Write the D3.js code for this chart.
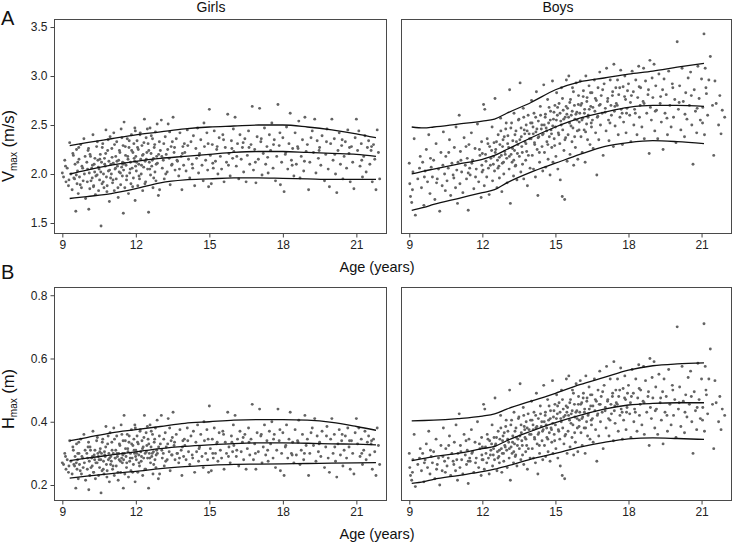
<!DOCTYPE html>
<html><head><meta charset="utf-8">
<script src="https://cdn.jsdelivr.net/npm/d3@7"></script>
<style>body{margin:0;background:#fff} svg{display:block;font-family:"Liberation Sans",Arial,Helvetica,sans-serif}</style>
</head><body><svg id="chart" width="733" height="544"></svg>
<script>
// ---------- tick labels ----------
const ageTicks = [9, 12, 15, 18, 21];
const vTicks = [1.5, 2.0, 2.5, 3.0, 3.5];
const hTicks = [0.2, 0.4, 0.6, 0.8];

// ---------- percentile curves ----------
const girlsCurveAge = [9.3,10,11,12,13,14,15,16,17,18,19,20,21,21.8];
const girlsV_hi  = [2.29,2.32,2.36,2.40,2.43,2.46,2.48,2.49,2.50,2.50,2.48,2.45,2.41,2.37];
const girlsV_mid = [2.00,2.04,2.09,2.13,2.16,2.18,2.20,2.22,2.23,2.23,2.22,2.21,2.20,2.18];
const girlsV_lo  = [1.75,1.77,1.80,1.85,1.91,1.94,1.95,1.96,1.96,1.955,1.95,1.945,1.945,1.945];
const girlsH_hi  = [.34,.35,.365,.375,.385,.395,.40,.405,.407,.407,.405,.398,.385,.373];
const girlsH_mid = [.277,.285,.295,.305,.315,.322,.327,.331,.333,.333,.332,.33,.329,.327];
const girlsH_lo  = [.222,.228,.236,.243,.252,.258,.262,.265,.266,.267,.268,.269,.27,.271];

const boysCurveAge = [9.1,9.6,10,11,12,12.5,13,14,15,16,17,18,19,20,21.1];
const boysV_hi  = [2.48,2.47,2.48,2.51,2.54,2.56,2.62,2.73,2.86,2.94,2.98,3.02,3.05,3.09,3.13];
const boysV_mid = [2.00,2.03,2.05,2.10,2.15,2.19,2.25,2.37,2.48,2.57,2.63,2.68,2.70,2.70,2.69];
const boysV_lo  = [1.63,1.66,1.69,1.75,1.81,1.84,1.91,2.02,2.11,2.20,2.28,2.32,2.34,2.33,2.31];
const boysH_hi  = [.403,.404,.405,.41,.418,.425,.44,.465,.49,.517,.54,.563,.577,.583,.586];
const boysH_mid = [.277,.284,.29,.30,.315,.322,.34,.37,.397,.42,.44,.453,.458,.46,.46];
const boysH_lo  = [.205,.211,.218,.23,.242,.25,.26,.282,.30,.32,.335,.346,.349,.347,.344];

// ---------- individual observations ----------
const girlsAge = [
9.0,9.05,9.1,9.15,9.2,9.25,9.3,9.35,9.4,9.45,
9.5,9.52,9.55,9.58,9.6,9.62,9.65,9.68,9.7,9.75,9.78,9.8,9.85,9.88,9.9,9.95,
10.0,10.02,10.05,10.08,10.1,10.12,10.15,10.2,10.22,10.25,10.28,10.3,10.32,10.35,10.4,10.42,10.45,10.48,
10.5,10.52,10.55,10.58,10.6,10.62,10.65,10.68,10.7,10.72,10.75,10.78,10.8,10.82,10.85,10.88,10.9,10.92,10.95,10.98,
11.0,11.02,11.05,11.08,11.1,11.12,11.15,11.18,11.2,11.22,11.25,11.28,11.3,11.32,11.35,11.38,11.4,11.42,11.45,11.48,11.49,11.46,
11.5,11.52,11.55,11.58,11.6,11.62,11.65,11.68,11.7,11.72,11.75,11.78,11.8,11.82,11.85,11.88,11.9,11.92,11.95,11.97,11.98,11.99,
12.0,12.02,12.05,12.08,12.1,12.12,12.15,12.18,12.2,12.22,12.25,12.28,12.3,12.32,12.35,12.38,12.4,12.42,12.45,12.48,
12.5,12.52,12.55,12.58,12.6,12.62,12.65,12.68,12.7,12.72,12.75,12.78,12.8,12.82,12.85,12.88,12.92,12.96,
13.0,13.04,13.08,13.12,13.16,13.2,13.24,13.28,13.32,13.36,13.4,13.44,13.48,13.49,
13.52,13.56,13.6,13.65,13.7,13.75,13.8,13.85,13.88,13.92,13.95,13.98,
14.0,14.05,14.1,14.15,14.2,14.25,14.3,14.35,14.4,14.45,14.48,
14.52,14.56,14.6,14.65,14.7,14.75,14.8,14.85,14.9,14.93,14.97,
15.0,15.04,15.08,15.12,15.16,15.2,15.25,15.3,15.35,15.4,15.45,
15.5,15.55,15.6,15.65,15.7,15.75,15.8,15.85,15.9,15.95,15.98,
16.0,16.05,16.1,16.15,16.2,16.25,16.3,16.35,16.4,16.45,
16.5,16.55,16.6,16.65,16.7,16.75,16.8,16.85,16.9,16.95,
17.0,17.05,17.1,17.15,17.2,17.25,17.3,17.35,17.4,17.45,
17.5,17.55,17.6,17.65,17.7,17.75,17.8,17.85,17.9,17.95,
18.0,18.05,18.1,18.15,18.2,18.25,18.3,18.35,18.4,18.45,
18.5,18.55,18.6,18.65,18.7,18.75,18.8,18.85,18.9,18.95,
19.0,19.05,19.1,19.2,19.25,19.3,19.35,19.4,19.45,
19.5,19.55,19.6,19.7,19.75,19.8,19.85,19.9,19.95,
20.0,20.05,20.1,20.15,20.2,20.25,20.3,20.35,20.4,20.45,
20.5,20.55,20.6,20.65,20.7,20.75,20.8,20.85,20.9,20.95,
21.0,21.05,21.1,21.15,21.2,21.25,21.3,21.35,21.4,21.45,
21.5,21.55,21.6,21.65,21.7,21.75,21.8,21.85,21.9,21.95,
9.13,9.27,9.43,9.57,9.63,9.73,9.83,9.93,9.47,9.67,
10.03,10.13,10.17,10.23,10.33,10.37,10.43,10.47,10.27,10.07,
10.53,10.57,10.63,10.67,10.73,10.77,10.83,10.87,10.93,10.97,
11.03,11.07,11.13,11.17,11.23,11.27,11.33,11.37,11.43,11.47,
11.53,11.57,11.63,11.67,11.73,11.77,11.83,11.87,11.93,11.96,
12.03,12.07,12.13,12.17,12.23,12.27,12.33,12.37,12.43,12.47,
12.53,12.57,12.63,12.67,12.73,12.77,12.83,12.87,12.93,12.97,
13.06,13.14,13.22,13.3,13.38,13.46,13.58,13.68,13.78,13.9,
14.12,14.32,14.58,14.78,14.95,15.14,15.32,15.58,15.78,15.92,
16.12,16.38,16.62,16.88,17.12,17.38,17.62,17.88,18.12,18.38,
18.62,18.88,19.15,19.48,19.78,20.12,20.42,20.72,21.22,21.62];
const girlsVmax = [
2.01,1.97,2.14,1.92,2.06,1.88,2.32,2.00,1.84,2.19,
1.95,2.10,1.62,2.25,1.90,2.03,1.80,2.15,1.97,2.30,1.86,2.08,1.93,2.36,2.00,1.75,
2.12,1.92,2.24,1.64,2.01,1.85,2.18,2.06,1.96,2.40,1.88,2.10,2.02,1.79,2.28,1.99,2.14,1.83,
2.05,1.94,2.20,1.47,2.12,1.90,2.31,2.00,1.86,2.16,2.08,2.45,1.97,1.82,2.24,2.03,2.13,1.72,2.38,2.10,
2.00,2.26,1.91,2.11,2.42,1.83,2.05,2.18,1.95,2.33,2.08,1.76,2.14,2.02,2.22,1.89,2.46,2.07,1.98,2.29,1.60,2.12,
2.04,2.53,1.86,2.19,2.09,1.94,2.36,2.15,1.80,2.27,2.01,2.12,1.90,2.40,2.06,2.22,1.96,2.31,2.13,1.73,2.44,2.08,
2.18,2.03,2.34,1.88,2.25,2.10,1.95,2.42,2.15,2.00,2.29,1.83,2.20,2.07,2.56,2.13,1.92,2.37,2.22,2.05,
2.31,1.61,2.12,2.47,1.99,2.21,2.08,2.36,1.86,2.16,2.27,2.02,2.43,1.93,2.18,2.11,1.78,2.33,
2.24,2.55,2.06,2.14,1.95,2.38,2.20,2.02,2.51,2.16,1.89,2.28,2.10,2.33,
2.58,2.22,2.04,2.36,2.13,1.98,2.42,2.18,1.84,2.28,2.09,2.31,
2.22,2.03,2.45,2.15,1.96,2.33,2.10,2.39,1.88,2.26,2.16,
2.47,2.01,2.21,2.35,2.09,1.93,2.28,2.14,2.42,2.04,1.87,
2.66,2.19,1.90,2.30,2.06,2.44,2.13,2.25,2.00,2.37,2.18,
2.05,2.40,1.92,2.27,2.12,2.61,2.21,1.98,2.34,2.16,2.46,
2.23,2.58,2.08,2.31,1.95,2.40,2.15,2.27,2.02,2.36,
1.92,2.19,2.44,2.10,2.30,2.69,2.04,2.25,1.91,2.38,
2.15,2.67,2.33,1.99,2.21,2.47,2.10,2.28,2.01,2.40,
2.24,2.52,2.06,2.35,1.93,2.18,2.71,2.29,1.89,2.12,
2.37,1.82,2.20,2.48,2.05,2.31,2.62,2.14,2.26,1.98,
2.42,2.10,2.28,2.54,1.96,2.18,2.35,2.03,2.58,2.23,
2.30,1.84,2.12,2.44,2.22,2.56,2.01,2.34,2.16,
2.27,2.09,2.39,1.93,2.20,2.46,2.05,1.87,2.31,
2.56,2.14,2.36,2.00,1.81,2.24,2.42,2.10,2.29,1.95,
2.18,2.33,2.06,2.45,2.21,1.92,2.28,2.12,1.85,2.37,
2.56,2.24,2.44,2.08,2.31,1.97,2.18,2.39,2.02,2.27,
2.34,2.10,2.24,1.92,2.30,2.15,1.84,2.45,2.22,1.95,
2.08,1.94,2.21,1.99,2.12,1.89,2.06,2.18,1.96,2.27,
2.05,2.20,1.93,2.09,2.16,1.98,2.33,2.07,1.87,2.26,
2.15,2.02,2.27,1.92,2.10,2.21,1.88,2.35,2.04,1.96,
2.17,1.94,2.30,2.06,2.13,1.86,2.24,2.01,2.37,2.10,
2.11,2.28,1.98,2.18,2.34,2.05,2.24,1.87,2.16,2.47,
2.12,2.27,1.98,2.40,2.09,2.19,2.32,1.90,2.15,2.46,
2.24,2.05,2.39,2.14,1.96,2.30,2.10,2.51,2.20,1.84,
2.18,2.31,2.00,2.25,2.43,2.09,2.27,2.14,2.05,2.21,
2.29,2.06,2.19,2.52,2.31,2.11,2.28,2.35,2.09,2.26,
2.18,2.32,2.27,2.12,2.36,2.17,2.30,2.42,2.22,2.09,
2.26,2.13,2.37,2.24,2.33,2.20,2.35,2.27,2.14,2.28];
const girlsHmax = [
.27,.265,.30,.25,.28,.24,.34,.275,.235,.31,
.26,.29,.19,.33,.25,.28,.22,.30,.265,.345,.235,.29,.255,.36,.27,.215,
.30,.25,.32,.185,.275,.23,.31,.285,.26,.37,.24,.295,.28,.22,.34,.27,.30,.23,
.28,.255,.315,.175,.30,.245,.345,.275,.235,.305,.29,.385,.265,.225,.33,.28,.30,.21,.365,.29,
.275,.335,.25,.30,.38,.23,.285,.31,.26,.355,.29,.215,.30,.28,.325,.24,.39,.285,.27,.34,.19,.30,
.28,.42,.235,.315,.29,.255,.36,.305,.225,.335,.275,.30,.245,.375,.285,.325,.265,.345,.30,.21,.38,.29,
.31,.28,.355,.24,.33,.295,.26,.375,.305,.275,.34,.23,.32,.285,.42,.30,.25,.365,.325,.285,
.345,.19,.30,.39,.27,.32,.29,.36,.235,.305,.335,.28,.38,.255,.31,.30,.22,.355,
.33,.42,.285,.30,.26,.365,.32,.28,.41,.305,.245,.34,.295,.35,
.43,.325,.28,.36,.30,.27,.375,.31,.23,.34,.29,.345,
.325,.28,.38,.305,.265,.355,.295,.37,.24,.335,.305,
.39,.275,.32,.36,.29,.255,.34,.30,.375,.28,.24,
.45,.315,.245,.345,.285,.38,.30,.33,.275,.365,.31,
.285,.37,.25,.335,.30,.43,.32,.27,.355,.305,.39,
.325,.42,.29,.345,.26,.37,.305,.335,.28,.36,
.25,.315,.38,.295,.345,.455,.28,.33,.25,.365,
.305,.44,.355,.27,.32,.39,.295,.34,.275,.37,
.33,.40,.285,.36,.255,.31,.44,.34,.245,.30,
.365,.23,.32,.39,.285,.345,.43,.30,.335,.27,
.375,.295,.34,.405,.265,.31,.36,.28,.42,.325,
.345,.23,.30,.38,.325,.41,.275,.355,.305,
.335,.29,.37,.255,.32,.385,.285,.24,.345,
.41,.30,.36,.275,.225,.33,.375,.295,.34,.26,
.31,.355,.285,.38,.32,.25,.34,.30,.235,.365,
.41,.33,.38,.29,.345,.265,.31,.37,.28,.335,
.355,.295,.33,.25,.345,.305,.23,.38,.325,.265,
.29,.26,.32,.27,.30,.245,.285,.31,.265,.335,
.285,.32,.255,.29,.31,.27,.35,.29,.24,.335,
.305,.28,.335,.25,.295,.32,.245,.355,.285,.265,
.31,.26,.345,.285,.30,.24,.33,.275,.36,.295,
.30,.34,.27,.315,.355,.285,.33,.24,.31,.39,
.30,.335,.27,.37,.29,.315,.35,.25,.305,.385,
.33,.285,.37,.30,.265,.345,.295,.405,.32,.235,
.31,.345,.275,.33,.38,.295,.335,.30,.285,.32,
.34,.285,.315,.40,.345,.30,.335,.36,.29,.335,
.31,.35,.335,.30,.36,.31,.345,.375,.325,.295,
.335,.30,.365,.33,.355,.32,.36,.34,.30,.34];

const boysAge = [
9.0,9.02,9.05,9.1,9.15,9.2,9.25,9.35,9.45,
9.5,9.55,9.6,9.65,9.7,9.75,9.8,9.85,9.9,9.95,
10.0,10.05,10.1,10.15,10.2,10.25,10.3,10.35,10.4,10.45,10.48,
10.5,10.55,10.6,10.65,10.7,10.75,10.8,10.85,10.9,10.92,10.95,10.98,
11.0,11.05,11.08,11.1,11.15,11.2,11.25,11.3,11.35,11.38,11.42,11.45,11.48,
11.5,11.55,11.6,11.65,11.7,11.75,11.8,11.85,11.9,11.95,11.97,11.98,11.99,
12.0,12.05,12.08,12.1,12.15,12.18,12.2,12.25,12.28,12.3,12.35,12.4,12.42,12.45,12.48,
12.5,12.52,12.55,12.6,12.62,12.65,12.68,12.7,12.72,12.75,12.78,12.8,12.82,12.85,12.88,12.92,12.96,
13.0,13.02,13.05,13.08,13.1,13.12,13.15,13.18,13.2,13.22,13.25,13.28,13.3,13.32,13.35,13.38,13.42,13.46,
13.5,13.52,13.55,13.58,13.6,13.62,13.65,13.68,13.7,13.72,13.75,13.78,13.8,13.82,13.85,13.88,13.92,13.96,
14.0,14.02,14.05,14.08,14.1,14.12,14.15,14.18,14.2,14.22,14.25,14.28,14.3,14.32,14.35,14.38,14.42,14.45,14.48,
14.5,14.52,14.55,14.58,14.6,14.62,14.65,14.68,14.7,14.72,14.75,14.78,14.8,14.82,14.85,14.88,14.9,14.92,14.95,14.98,
15.0,15.02,15.05,15.08,15.1,15.12,15.15,15.18,15.2,15.22,15.25,15.28,15.3,15.32,15.35,15.38,15.4,15.42,15.45,15.48,
15.5,15.52,15.55,15.58,15.6,15.62,15.65,15.68,15.7,15.72,15.75,15.78,15.8,15.82,15.85,15.88,15.9,15.92,15.95,15.98,
16.0,16.02,16.05,16.08,16.1,16.12,16.15,16.18,16.2,16.22,16.25,16.28,16.3,16.32,16.35,16.38,16.42,16.45,16.48,
16.5,16.52,16.55,16.6,16.62,16.65,16.68,16.7,16.72,16.75,16.78,16.8,16.82,16.85,16.88,16.92,16.96,
17.0,17.05,17.08,17.1,17.15,17.18,17.2,17.25,17.28,17.3,17.35,17.38,17.4,17.42,17.45,17.48,
17.5,17.55,17.58,17.6,17.65,17.68,17.7,17.75,17.78,17.8,17.85,17.88,17.9,17.92,17.96,
18.0,18.05,18.08,18.1,18.15,18.2,18.22,18.25,18.3,18.35,18.38,18.42,18.45,18.48,
18.5,18.55,18.6,18.62,18.65,18.7,18.75,18.8,18.85,18.88,18.9,18.94,18.97,
19.0,19.05,19.08,19.12,19.15,19.2,19.25,19.3,19.35,19.4,19.42,19.46,
19.5,19.55,19.6,19.65,19.7,19.75,19.8,19.85,19.9,19.95,
20.0,20.05,20.1,20.15,20.2,20.25,20.3,20.35,20.4,20.45,
20.5,20.55,20.6,20.65,20.7,20.75,20.8,20.85,20.9,20.95,
21.0,21.05,21.1,21.12,21.15,21.2,21.25,21.3,21.36,21.45,
21.5,21.55,21.6,21.7,21.75,21.8,21.85,21.95,
9.13,9.42,9.62,9.87,10.12,10.38,10.62,10.83,11.12,11.33,
11.57,11.72,11.88,12.03,12.13,12.23,12.33,12.38,12.46,11.42,
12.53,12.58,12.64,12.7,12.76,12.83,12.87,12.9,12.94,12.98,
13.04,13.11,13.17,13.24,13.29,13.34,13.4,13.44,13.48,13.37,
13.54,13.59,13.64,13.7,13.74,13.79,13.84,13.89,13.94,13.98,
14.04,14.09,14.14,14.19,14.24,14.29,14.34,14.39,14.44,14.47,
14.54,14.59,14.64,14.69,14.74,14.79,14.84,14.89,14.94,14.97,
15.04,15.09,15.14,15.19,15.24,15.29,15.34,15.39,15.44,15.47,
15.54,15.59,15.64,15.69,15.74,15.79,15.84,15.89,15.94,15.97,
16.04,16.09,16.14,16.19,16.24,16.29,16.34,16.39,16.44,16.47,
16.54,16.64,16.74,16.84,16.94,17.04,17.14,17.24,17.34,17.44,
17.54,17.64,17.74,17.84,17.94,18.12,18.28,18.44,18.64,18.82,
19.1,19.32,19.58,19.82,20.08,20.32,20.58,20.82,21.04,21.18];
const boysVmax = [
2.11,1.90,1.77,1.71,2.02,2.36,1.58,1.95,2.18,
1.86,2.12,1.68,2.03,2.25,1.92,2.40,1.80,2.07,1.97,
2.14,1.74,2.31,1.95,2.05,1.62,2.22,1.88,2.43,2.00,1.83,
2.18,1.93,2.06,2.35,1.78,2.11,1.99,2.27,1.86,2.48,2.04,1.70,
2.12,2.60,1.90,2.23,2.02,1.81,2.37,2.09,1.95,2.16,1.63,2.30,2.06,
1.99,2.42,2.14,1.85,2.26,2.05,2.51,1.92,2.19,1.76,2.33,2.09,2.02,
2.21,2.71,1.88,2.66,2.13,1.97,2.36,2.06,1.79,2.28,2.16,2.48,1.93,2.10,2.32,
2.03,2.77,2.25,1.86,2.14,2.40,2.08,1.96,2.30,2.57,2.19,1.82,2.11,2.35,2.00,2.23,2.46,
2.16,1.91,2.39,2.27,2.05,2.86,1.70,2.20,2.52,2.12,2.34,1.98,2.62,2.24,2.08,2.44,1.94,2.30,
2.56,2.18,2.93,2.02,2.38,2.28,2.10,2.67,1.95,2.45,2.33,2.14,2.50,2.23,1.88,2.60,2.41,2.06,
2.36,2.75,2.19,2.48,2.05,2.62,2.30,1.97,2.43,2.84,2.25,1.78,2.54,2.38,2.12,2.69,2.46,2.28,2.03,
2.41,2.91,2.22,2.58,2.07,2.47,2.33,2.76,2.15,2.52,2.38,1.99,2.64,2.45,2.27,2.95,2.12,2.56,2.36,2.70,
2.48,2.18,2.83,2.60,2.05,2.42,2.72,2.31,1.94,2.54,2.88,1.77,2.45,2.65,2.24,1.74,2.58,2.37,2.96,2.13,
2.67,2.40,3.00,2.52,2.20,2.76,2.60,2.33,2.88,2.47,2.09,2.70,2.56,2.27,2.93,2.63,2.44,2.15,2.80,2.53,
2.62,2.95,2.38,2.72,2.22,2.57,2.85,2.45,2.66,2.12,3.00,2.51,2.78,2.35,2.60,2.90,2.30,2.69,2.48,
2.83,2.55,2.26,2.96,2.64,2.42,2.75,1.99,2.58,2.88,2.35,2.70,3.04,2.50,2.80,2.62,2.19,
2.92,2.67,2.44,3.08,2.77,2.55,2.34,2.96,2.70,2.60,2.84,2.28,3.12,2.64,2.49,2.88,
2.72,2.96,2.40,2.81,2.58,3.06,2.66,2.30,2.89,2.53,3.00,2.76,2.42,2.62,2.85,
2.92,2.60,2.73,2.33,3.05,2.84,2.50,2.66,2.96,2.40,2.78,3.10,2.58,2.70,
2.88,2.48,2.74,3.08,2.36,2.95,2.62,2.81,2.21,3.16,2.68,2.55,2.98,
2.78,3.12,2.44,2.90,2.65,2.36,3.02,2.72,2.53,2.86,2.25,2.97,
2.62,2.81,2.40,3.05,2.70,2.48,2.92,2.58,2.76,2.32,
3.35,2.66,2.90,2.45,3.08,2.74,2.38,2.83,2.56,2.98,
2.70,3.04,2.50,2.10,2.86,2.64,2.42,3.10,2.77,2.55,
2.97,2.68,3.43,2.40,3.08,2.82,2.60,2.96,3.20,2.70,
2.19,2.95,2.72,2.50,2.80,2.41,2.65,2.58,
1.84,2.06,1.97,2.16,1.91,2.09,2.22,1.96,2.14,2.28,
2.11,1.97,2.25,2.04,2.20,2.31,2.09,2.24,2.18,2.01,
2.22,2.33,2.06,2.17,2.44,2.28,2.12,2.38,2.20,2.52,
2.31,2.18,2.47,2.26,2.14,2.40,2.33,2.21,2.55,2.09,
2.35,2.47,2.22,2.58,2.41,2.31,2.44,2.19,2.36,2.52,
2.52,2.41,2.32,2.58,2.46,2.37,2.22,2.60,2.50,2.40,
2.50,2.61,2.44,2.30,2.68,2.55,2.41,2.49,2.63,2.29,
2.55,2.68,2.40,2.62,2.50,2.77,2.56,2.35,2.69,2.61,
2.58,2.73,2.49,2.64,2.84,2.38,2.61,2.55,2.71,2.45,
2.70,2.55,2.79,2.62,2.43,2.74,2.58,2.66,2.83,2.52,
2.68,2.77,2.59,2.71,2.86,2.63,2.74,2.52,2.80,2.69,
2.70,2.88,2.62,2.79,2.67,2.80,2.62,2.89,2.72,2.86,
2.64,2.79,2.57,2.88,2.73,2.61,2.80,2.67,2.52,2.88];
const boysHmax = [
.30,.255,.23,.215,.28,.36,.195,.265,.315,
.245,.30,.21,.28,.33,.255,.37,.235,.29,.27,
.305,.22,.345,.265,.285,.20,.325,.245,.38,.275,.24,
.315,.26,.285,.355,.23,.30,.275,.335,.245,.39,.28,.215,
.30,.425,.255,.325,.28,.235,.36,.295,.265,.31,.205,.345,.285,
.275,.375,.305,.24,.335,.285,.40,.255,.315,.23,.35,.295,.28,
.32,.455,.25,.44,.30,.27,.36,.285,.235,.34,.31,.39,.26,.295,.35,
.28,.475,.33,.245,.305,.37,.29,.27,.345,.42,.315,.24,.30,.355,.275,.325,.385,
.31,.255,.37,.335,.285,.50,.215,.32,.405,.30,.355,.27,.43,.33,.29,.38,.26,.345,
.415,.315,.52,.28,.365,.34,.295,.445,.265,.385,.35,.305,.40,.325,.25,.425,.375,.285,
.36,.465,.315,.39,.285,.43,.345,.27,.38,.49,.33,.235,.41,.365,.30,.45,.385,.34,.28,
.375,.515,.325,.42,.29,.39,.35,.47,.305,.405,.365,.275,.435,.38,.335,.53,.30,.415,.36,.455,
.39,.315,.485,.425,.285,.375,.46,.345,.26,.41,.50,.23,.38,.44,.33,.22,.42,.36,.535,.30,
.445,.37,.545,.405,.32,.47,.425,.35,.50,.39,.295,.455,.415,.335,.52,.435,.38,.305,.48,.405,
.43,.53,.365,.46,.325,.415,.49,.38,.44,.30,.545,.40,.475,.355,.425,.51,.345,.45,.39,
.485,.41,.335,.535,.435,.375,.465,.275,.42,.50,.355,.455,.56,.40,.48,.43,.315,
.515,.445,.38,.575,.47,.41,.355,.535,.455,.425,.49,.34,.59,.435,.395,.50,
.46,.535,.37,.48,.42,.57,.44,.345,.505,.405,.545,.47,.375,.43,.49,
.515,.425,.46,.35,.565,.49,.40,.44,.535,.37,.475,.58,.42,.455,
.50,.39,.465,.575,.36,.53,.43,.48,.325,.60,.445,.41,.54,
.475,.59,.38,.51,.44,.36,.55,.46,.405,.495,.33,.535,
.43,.48,.37,.565,.455,.39,.515,.42,.47,.35,
.70,.44,.51,.385,.575,.465,.365,.485,.415,.54,
.455,.56,.40,.30,.495,.435,.375,.585,.47,.41,
.535,.445,.71,.37,.575,.485,.425,.535,.63,.455,
.315,.53,.46,.40,.48,.375,.44,.42,
.24,.285,.27,.31,.25,.29,.325,.265,.305,.34,
.30,.27,.33,.28,.32,.345,.295,.33,.315,.275,
.325,.35,.285,.31,.38,.34,.30,.365,.32,.405,
.345,.315,.39,.335,.305,.37,.35,.325,.41,.295,
.355,.39,.325,.42,.375,.345,.38,.315,.36,.405,
.405,.375,.35,.42,.385,.36,.325,.425,.40,.37,
.40,.43,.38,.345,.45,.41,.375,.395,.435,.34,
.41,.45,.37,.43,.40,.47,.415,.355,.45,.43,
.42,.46,.395,.435,.49,.365,.43,.41,.455,.385,
.455,.41,.475,.43,.38,.465,.42,.44,.485,.405,
.45,.47,.425,.455,.495,.435,.465,.405,.48,.45,
.455,.50,.43,.475,.445,.48,.43,.505,.46,.495,
.435,.475,.42,.50,.46,.43,.48,.445,.405,.50];

// ---------- drawing ----------
const svg = d3.select('#chart');
const FONT = '"Liberation Sans",Arial,Helvetica,sans-serif';

const panels = [
  {x0:54,  x1:387, y0:19,  y1:233, yDom:[1.398,3.582], ages:girlsAge, vals:girlsVmax, cAge:girlsCurveAge, curves:[girlsV_hi,girlsV_mid,girlsV_lo], yTicks:vTicks, showY:true},
  {x0:401, x1:732, y0:19,  y1:233, yDom:[1.398,3.582], ages:boysAge,  vals:boysVmax,  cAge:boysCurveAge,  curves:[boysV_hi,boysV_mid,boysV_lo],   yTicks:vTicks, showY:false},
  {x0:54,  x1:387, y0:287, y1:500, yDom:[0.1526,0.826], ages:girlsAge, vals:girlsHmax, cAge:girlsCurveAge, curves:[girlsH_hi,girlsH_mid,girlsH_lo], yTicks:hTicks, showY:true},
  {x0:401, x1:732, y0:287, y1:500, yDom:[0.1526,0.826], ages:boysAge,  vals:boysHmax,  cAge:boysCurveAge,  curves:[boysH_hi,boysH_mid,boysH_lo],   yTicks:hTicks, showY:false}
];

panels.forEach(p => {
  const x = d3.scaleLinear().domain([8.66, 22.25]).range([p.x0, p.x1]);
  const y = d3.scaleLinear().domain(p.yDom).range([p.y1, p.y0]);
  const g = svg.append('g');

  const n = Math.min(p.ages.length, p.vals.length);
  g.append('g').selectAll('circle').data(d3.range(n)).join('circle')
    .attr('cx', i => x(p.ages[i])).attr('cy', i => y(p.vals[i]))
    .attr('r', 1.45).attr('fill', '#636363');

  const line = d3.line().curve(d3.curveMonotoneX)
    .x((d, i) => x(p.cAge[i])).y(d => y(d));
  p.curves.forEach(c => {
    g.append('path').attr('d', line(c)).attr('fill', 'none')
      .attr('stroke', '#111').attr('stroke-width', 1.3);
  });

  g.append('rect').attr('x', p.x0 + 0.5).attr('y', p.y0 + 0.5)
    .attr('width', p.x1 - p.x0 - 1).attr('height', p.y1 - p.y0)
    .attr('fill', 'none').attr('stroke', '#4a4a4a').attr('stroke-width', 1);

  const xa = g.append('g').attr('transform', `translate(0,${p.y1 + 0.5})`)
    .call(d3.axisBottom(x).tickValues(ageTicks).tickFormat(d3.format('d')).tickSize(4).tickPadding(3));
  xa.select('.domain').remove();
  xa.selectAll('line').attr('stroke', '#444');
  xa.selectAll('text').attr('font-size', 12).attr('fill', '#222').attr('font-family', FONT);

  if (p.showY) {
    const ya = g.append('g').attr('transform', `translate(${p.x0 + 0.5},0)`)
      .call(d3.axisLeft(y).tickValues(p.yTicks).tickFormat(d3.format('.1f')).tickSize(4).tickPadding(3));
    ya.select('.domain').remove();
    ya.selectAll('line').attr('stroke', '#444');
    ya.selectAll('text').attr('font-size', 12).attr('fill', '#222').attr('font-family', FONT);
  }
});

// titles / labels
const txt = (x, y, s, size, anchor) => svg.append('text').attr('x', x).attr('y', y)
  .attr('font-size', size).attr('text-anchor', anchor || 'middle').attr('fill', '#111')
  .attr('font-family', FONT).text(s);
txt(211, 12, 'Girls', 14);
txt(558, 12, 'Boys', 14);
txt(1, 25, 'A', 20, 'start');
txt(1, 279, 'B', 20, 'start');
txt(377, 272, 'Age (years)', 14.5);
txt(377, 539, 'Age (years)', 14.5);

function yLabel(cy, main, unit) {
  const t = svg.append('text').attr('transform', `translate(13.5,${cy}) rotate(-90)`)
    .attr('text-anchor', 'middle').attr('font-size', 16.5).attr('fill', '#111').attr('font-family', FONT);
  t.append('tspan').text(main);
  t.append('tspan').attr('font-size', 10).attr('dy', 3).text('max');
  t.append('tspan').attr('dy', -3).text(' ' + unit);
}
yLabel(146, 'V', '(m/s)');
yLabel(399, 'H', '(m)');
</script></body></html>
